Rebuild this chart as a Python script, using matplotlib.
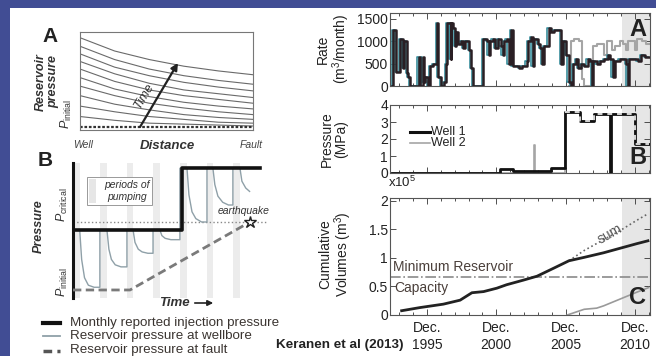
import matplotlib
matplotlib.use('Agg')
import matplotlib.pyplot as plt
import numpy as np
from matplotlib.patches import Rectangle, FancyArrowPatch
from matplotlib.lines import Line2D
from matplotlib.transforms import offset_copy

plt.rcParams['font.family'] = ['Liberation Sans', 'DejaVu Sans']
plt.rcParams['mathtext.fontset'] = 'custom'
plt.rcParams['mathtext.rm'] = 'Liberation Sans'
plt.rcParams['mathtext.it'] = 'Liberation Sans:italic'
plt.rcParams['mathtext.bf'] = 'Liberation Sans:bold'

# ---------------- data ----------------
# schematic A: reservoir pressure vs distance (well -> fault), one curve per time
schem_dist = [0.0, 0.2, 0.4, 0.6, 0.8, 1.0]
schem_curves = [
    [0.94, 0.80, 0.71, 0.64, 0.59, 0.55],
    [0.85, 0.71, 0.61, 0.54, 0.49, 0.45],
    [0.77, 0.63, 0.54, 0.47, 0.42, 0.38],
    [0.69, 0.56, 0.46, 0.39, 0.35, 0.31],
    [0.61, 0.48, 0.39, 0.33, 0.29, 0.25],
    [0.52, 0.40, 0.32, 0.26, 0.22, 0.19],
    [0.43, 0.33, 0.25, 0.20, 0.16, 0.13],
    [0.33, 0.24, 0.18, 0.13, 0.10, 0.08],
    [0.22, 0.16, 0.11, 0.08, 0.05, 0.04],
    [0.11, 0.07, 0.04, 0.03, 0.02, 0.01],
]

# schematic B: pressure vs time (P_initial = 0, P_critical = 1)
inj_t = [0.0, 5.68, 9.74]
inj_p = [0.88, 1.79, 1.79]
fault_t = [0.0, 2.97, 9.22]
fault_p = [0.0, 0.0, 1.0]
pump_start = [0.0, 1.40, 2.81, 4.17, 5.57, 6.98, 8.33]
pump_end = [0.35, 1.77, 3.13, 4.53, 5.94, 7.29, 8.70]
well_t = [0.0, 0.35, 0.45, 0.6, 0.8, 1.1, 1.4,
          1.4, 1.77, 1.87, 2.0, 2.2, 2.5, 2.81,
          2.81, 3.13, 3.23, 3.4, 3.6, 3.9, 4.17,
          4.17, 4.53, 4.63, 4.8, 5.1, 5.57,
          5.57, 5.94, 6.04, 6.2, 6.4, 6.7, 6.98,
          6.98, 7.29, 7.39, 7.55, 7.8, 8.1, 8.33,
          8.33, 8.70, 8.8, 9.0, 9.2]
well_p = [0.88, 0.88, 0.45, 0.18, 0.07, 0.04, 0.04,
          0.88, 0.88, 0.60, 0.45, 0.37, 0.34, 0.34,
          0.88, 0.88, 0.70, 0.60, 0.56, 0.54, 0.54,
          0.88, 0.88, 0.80, 0.76, 0.74, 0.74,
          1.79, 1.79, 1.40, 1.15, 1.05, 1.00, 1.00,
          1.79, 1.79, 1.55, 1.38, 1.29, 1.25, 1.25,
          1.79, 1.79, 1.60, 1.50, 1.45]

# Panel A (right): monthly injection rate, m3/month
rate1_year = [1993.41, 1993.52, 1993.75, 1994.02, 1994.22, 1994.28, 1994.50, 1994.62, 1994.75,
              1995.36, 1995.44, 1995.64, 1995.72, 1995.85, 1996.05, 1996.18, 1996.40, 1996.66,
              1996.74, 1996.95, 1997.22, 1997.34, 1997.42, 1997.66, 1997.72, 1997.86, 1997.97,
              1998.08, 1998.22, 1998.40, 1998.58, 1998.72, 1999.02, 1999.15, 1999.30, 2000.02,
              2000.28, 2000.40, 2000.52, 2000.70, 2000.88, 2001.08, 2001.27, 2001.42, 2001.55,
              2001.70, 2001.85, 2002.02, 2002.14, 2002.62, 2002.78, 2003.15, 2003.28, 2003.46,
              2003.58, 2003.70, 2003.95, 2004.12, 2004.26, 2004.40, 2004.74, 2004.90, 2005.15,
              2005.62, 2005.80, 2006.00, 2006.18, 2006.35, 2006.52, 2006.72, 2006.86, 2007.08,
              2007.30, 2007.55, 2007.72, 2007.88, 2007.96, 2008.20, 2008.45, 2008.75, 2009.00,
              2009.16, 2009.35, 2009.50, 2009.85, 2010.12, 2010.32, 2010.44, 2010.56, 2010.92,
              2011.15, 2011.40, 2011.72, 2012.00]
rate1 = [0, 1250, 320, 1050, 400, 1000, 300, 200, 0,
         650, 0, 650, 100, 200, 0, 450, 500, 1400,
         200, 0, 100, 500, 1400, 600, 1400, 1300, 900,
         1200, 950, 1000, 850, 1000, 800, 400, 0, 1050,
         1000, 700, 1000, 1050, 850, 1050, 900, 700, 1000,
         1050, 500, 1250, 450, 400, 450, 550, 1000, 1100,
         450, 1050, 950, 850, 500, 900, 1300, 1200, 1250,
         500, 1000, 700, 100, 0, 500, 600, 400, 500,
         450, 600, 550, 0, 550, 500, 550, 600, 700,
         600, 200, 550, 600, 600, 500, 0, 600, 600,
         550, 700, 650, 650]
rate2_year = [2006.20, 2006.35, 2006.60, 2006.95, 2007.12, 2007.30, 2007.95, 2008.25, 2008.75,
              2008.95, 2009.30, 2009.55, 2009.85, 2010.10, 2010.30, 2010.45, 2010.75, 2010.95,
              2011.10, 2011.45, 2011.75, 2012.00]
rate2 = [0, 1000, 1050, 1000, 150, 0, 900, 950, 700,
         1000, 800, 900, 1000, 950, 800, 1000, 1000, 800,
         1050, 1000, 950, 950]

# Panel B (right): wellhead pressure, MPa
pres1_year = [1993.41, 2001.20, 2002.20, 2004.90, 2005.90, 2007.00, 2008.00, 2009.15, 2009.22, 2011.00, 2012.00]
pres1 = [0.0, 0.25, 0.12, 0.30, 3.60, 3.08, 3.47, 0.0, 3.47, 1.70, 1.70]
pres2_year = [1993.41, 2003.65, 2003.72, 2005.90, 2007.00, 2008.00, 2011.00, 2012.00]
pres2 = [0.0, 1.65, 0.0, 3.60, 3.08, 3.47, 1.70, 1.70]

# Panel C (right): cumulative volumes, x1e5 m3
cum1_year = [1994.13, 1995.45, 1997.14, 1998.35, 1999.20, 2000.04, 2001.00, 2001.70, 2002.90,
             2003.90, 2005.10, 2006.20, 2007.30, 2008.70, 2009.90, 2011.10, 2011.90]
cum1 = [0.075, 0.13, 0.19, 0.26, 0.39, 0.41, 0.47, 0.53, 0.61,
        0.68, 0.82, 0.95, 1.01, 1.09, 1.17, 1.25, 1.30]
cum2_year = [2006.08, 2007.30, 2008.20, 2008.70, 2009.90, 2011.10, 2011.95]
cum2 = [0.0, 0.10, 0.12, 0.16, 0.28, 0.40, 0.48]
sum_year = [2006.20, 2007.30, 2008.70, 2009.90, 2011.10, 2011.95]
cum_sum = [0.95, 1.13, 1.32, 1.48, 1.66, 1.78]
min_capacity = 0.67

major_years = [1995.96, 2000.96, 2005.96, 2010.96]
major_labels = ['Dec.\n1995', 'Dec.\n2000', 'Dec.\n2005', 'Dec.\n2010']
minor_years = [y + 0.96 for y in range(1993, 2012)]
shade_start = 2010.0

# ---------------- figure ----------------
W, H = 656, 356
fig = plt.figure(figsize=(W / 100, H / 100), dpi=100)
fig.patch.set_facecolor('#414d94')
fig.add_artist(Rectangle((10 / W, 0), 1 - 10 / W, 1 - 8 / H, transform=fig.transFigure,
                         facecolor='white', edgecolor='none', zorder=0))

def ax_px(x0, y0, x1, y1):
    return fig.add_axes([x0 / W, 1 - y1 / H, (x1 - x0) / W, (y1 - y0) / H])

def ftext(px, py, s, **kw):
    return fig.text(px / W, 1 - py / H, s, **kw)

TXT = '#3a3430'

# ---- left A schematic ----
axa = ax_px(80, 32, 253, 130)
for c in schem_curves:
    axa.plot(schem_dist, c, color='#6a6a6a', lw=0.8)
axa.axhline(0, color='#333333', lw=1.6, ls=(0, (1.2, 0.8)))
axa.set_xlim(0, 1)
axa.set_ylim(-0.032, 1.0)
axa.set_xticks([]); axa.set_yticks([])
for s in axa.spines.values():
    s.set_color('#777777'); s.set_linewidth(0.8)
axa.annotate('', xy=(0.566, 0.674), xytext=(0.347, 0.0),
             arrowprops=dict(arrowstyle='-|>', color='#222222', lw=1.6, mutation_scale=10,
                             shrinkA=0, shrinkB=0))
axa.text(0.37, 0.33, 'Time', rotation=59, ha='center', va='center', fontsize=9,
         style='italic', color='#333333')
ftext(50, 37, 'A', fontsize=15, fontweight='bold', ha='center', va='center', color='#222')
ftext(47, 82, 'Reservoir\npressure', rotation=90, fontsize=9, fontweight='bold', style='italic',
      ha='center', va='center', color='#333', linespacing=1.1)
ftext(66, 114, r'$P_{\rm initial}$', rotation=90, fontsize=9, ha='center', va='center', color='#333')
ftext(83, 145, 'Well', fontsize=7.5, style='italic', ha='center', va='center', color='#444')
ftext(167, 146, 'Distance', fontsize=9.5, style='italic', fontweight='bold', ha='center', va='center', color='#333')
ftext(251, 145, 'Fault', fontsize=7.5, style='italic', ha='center', va='center', color='#444')

# ---- left B schematic ----
axb = ax_px(73, 163, 268, 298)
for s0, s1 in zip(pump_start, pump_end):
    axb.axvspan(s0, s1, color='#ececec', lw=0, zorder=0)
axb.axhline(1.0, color='#888888', lw=1.0, ls=':', zorder=1)
axb.plot(well_t, well_p, color='#8fa0a8', lw=1.0, zorder=2)
axb.plot(fault_t, fault_p, color='#7a7a7a', lw=2.0, ls=(0, (3, 1.6)), zorder=3)
axb.step(inj_t, inj_p, where='post', color='#111111', lw=2.6, zorder=4)
axb.plot([fault_t[-1]], [fault_p[-1]], marker='*', ms=9, mfc='white', mec='#222', mew=1.0, zorder=5)
axb.set_xlim(0, 10.16)
axb.set_ylim(-0.118, 1.868)
axb.set_xticks([]); axb.set_yticks([])
for k in ['top', 'right', 'bottom']:
    axb.spines[k].set_visible(False)
axb.spines['left'].set_linewidth(2.2)
axb.spines['left'].set_color('#111')
axb.set_facecolor('none')
ftext(45, 160, 'B', fontsize=15, fontweight='bold', ha='center', va='center', color='#222')
ftext(39, 226, 'Pressure', rotation=90, fontsize=9, fontweight='bold', style='italic',
      ha='center', va='center', color='#333')
ftext(62, 205, r'$P_{\rm critical}$', rotation=90, fontsize=9, ha='center', va='center', color='#333')
ftext(62, 282, r'$P_{\rm initial}$', rotation=90, fontsize=9, ha='center', va='center', color='#333')
ftext(244, 211, 'earthquake', fontsize=7.5, style='italic', ha='center', va='center', color='#333')
fig.add_artist(Rectangle((87 / W, 1 - 205 / H), 65 / W, 28 / H, transform=fig.transFigure,
                         facecolor='white', edgecolor='#999999', lw=0.7, zorder=6))
fig.add_artist(Rectangle((89 / W, 1 - 203 / H), 7 / W, 24 / H, transform=fig.transFigure,
                         facecolor='#e6e6e6', edgecolor='none', zorder=7))
ftext(127, 191, 'periods of\npumping', fontsize=7.5, style='italic', ha='center', va='center',
      color='#333', linespacing=1.15, zorder=8)
ftext(174, 303, 'Time', fontsize=9.5, style='italic', fontweight='bold', ha='center', va='center', color='#333')
fig.add_artist(FancyArrowPatch((192 / W, 1 - 303 / H), (216 / W, 1 - 303 / H), transform=fig.transFigure,
                               arrowstyle='-|>', mutation_scale=8, color='#222', lw=1.2))

# legend of schematic B
fig.add_artist(Line2D([43 / W, 60 / W], [1 - 323 / H] * 2, transform=fig.transFigure, color='#111', lw=3))
fig.add_artist(Line2D([43 / W, 60 / W], [1 - 336 / H] * 2, transform=fig.transFigure, color='#8fa0a8', lw=1.3))
fig.add_artist(Line2D([43 / W, 60 / W], [1 - 351 / H] * 2, transform=fig.transFigure, color='#555',
                      lw=2.5, ls=(0, (2.5, 1.5))))
ftext(70, 323, 'Monthly reported injection pressure', fontsize=9.6, ha='left', va='center', color=TXT)
ftext(70, 336, 'Reservoir pressure at wellbore', fontsize=9.6, ha='left', va='center', color=TXT)
ftext(70, 350, 'Reservoir pressure at fault', fontsize=9.6, ha='left', va='center', color=TXT)
ftext(276, 345, 'Keranen et al (2013)', fontsize=9.7, fontweight='bold', ha='left', va='center', color='#222')

# ---- right panels ----
XLIM = (1993.29, 2012.05)

def style_right(ax):
    ax.set_xlim(*XLIM)
    ax.axvspan(shade_start, XLIM[1], color='#e6e6e6', lw=0, zorder=0)
    ax.set_xticks(major_years)
    ax.set_xticks(minor_years, minor=True)
    ax.tick_params(axis='both', which='both', direction='in', top=True, right=True,
                   labelsize=10, pad=1.5, colors='#333', labelcolor='#222')
    ax.tick_params(which='major', length=4, width=0.6)
    ax.tick_params(which='minor', length=2.5, width=0.6)
    for s in ax.spines.values():
        s.set_color('#555'); s.set_linewidth(0.8)

# A: rate
ax1 = ax_px(390, 13, 650, 86)
style_right(ax1)
ax1.step(rate2_year, rate2, where='post', color='#a5a5a5', lw=1.5, zorder=2)
ax1.step(rate1_year, rate1, where='post', color='#3a8d9c', lw=1.2, zorder=2.5,
         transform=offset_copy(ax1.transData, fig=fig, x=-1.2, y=0, units='dots'))
ax1.step(rate1_year, rate1, where='post', color='#2a1f24', lw=1.8, zorder=3)
ax1.set_ylim(0, 1634)
ax1.set_yticks([0, 500, 1000, 1500])
ax1.set_xticklabels([])
ax1.text(0.985, 0.93, 'A', transform=ax1.transAxes, fontsize=17, fontweight='bold',
         ha='right', va='top', color='#222')
ftext(334, 49, 'Rate\n(m$^3$/month)', rotation=90, fontsize=10, ha='center', va='center',
      multialignment='center', color='#222', linespacing=1.05)

# B: pressure
ax2 = ax_px(390, 105, 650, 173)
style_right(ax2)
p2y = np.array(pres2_year); p2 = np.array(pres2)
ax2.step(pres2_year, pres2, where='post', color='#a5a5a5', lw=1.2, zorder=2)
ax2.step(pres1_year, pres1, where='post', color='#111', lw=2.0, zorder=3)
sel = p2y >= 2005.9
ax2.step(p2y[sel], p2[sel], where='post', color='#d8d8d8', lw=1.4, ls=(0, (2.5, 2.5)), zorder=4)
ax2.set_ylim(0, 4)
ax2.set_yticks([0, 1, 2, 3, 4])
ax2.set_xticklabels([])
ax2.text(0.985, 0.06, 'B', transform=ax2.transAxes, fontsize=17, fontweight='bold',
         ha='right', va='bottom', color='#222')
ftext(334, 139, 'Pressure\n(MPa)', rotation=90, fontsize=10, ha='center', va='center',
      multialignment='center', color='#222', linespacing=1.05)
fig.add_artist(Line2D([410 / W, 430 / W], [1 - 132.5 / H] * 2, transform=fig.transFigure, color='#111', lw=2.2))
fig.add_artist(Line2D([410 / W, 430 / W], [1 - 143 / H] * 2, transform=fig.transFigure, color='#a5a5a5', lw=1.2))
ftext(431, 132.5, 'Well 1', fontsize=9, ha='left', va='center', color='#222')
ftext(431, 143.5, 'Well 2', fontsize=9, ha='left', va='center', color='#222')

# C: cumulative
ax3 = ax_px(390, 198, 650, 315)
style_right(ax3)
ax3.axhline(min_capacity, color='#8a8a8a', lw=1.2, ls='-.', zorder=1)
ax3.plot(sum_year, cum_sum, color='#666', lw=1.2, ls=':', zorder=2)
ax3.plot(cum2_year, cum2, color='#9a9a9a', lw=1.2, zorder=2)
ax3.plot(cum1_year, cum1, color='#222', lw=2.0, zorder=3)
ax3.set_ylim(0, 2.05)
ax3.set_yticks([0, 0.5, 1, 1.5, 2])
ax3.set_yticklabels(['0', '0.5', '1', '1.5', '2'])
ax3.set_xticklabels(major_labels, linespacing=1.3)
ax3.tick_params(axis='x', pad=4)
ax3.text(0.985, 0.05, 'C', transform=ax3.transAxes, fontsize=17, fontweight='bold',
         ha='right', va='bottom', color='#222')
ax3.text(1993.5, 0.72, 'Minimum Reservoir', fontsize=10, ha='left', va='bottom', color='#4a3f3a')
ax3.text(1993.6, 0.60, 'Capacity', fontsize=10, ha='left', va='top', color='#4a3f3a')
ax3.text(2009.2, 1.42, 'sum', fontsize=10, rotation=30, ha='center', va='center', color='#555')
ftext(388, 182, r'x10$^5$', fontsize=9.5, ha='left', va='center', color='#222')
ftext(336, 254, 'Cumulative\nVolumes (m$^3$)', rotation=90, fontsize=10, ha='center', va='center',
      multialignment='center', color='#222', linespacing=1.05)

fig.savefig('out.png', dpi=100, facecolor=fig.get_facecolor())
